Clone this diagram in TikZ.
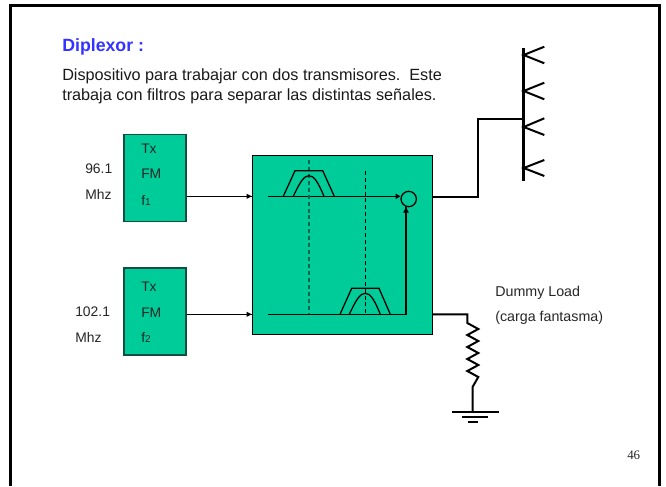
\documentclass[tikz,border=0pt]{standalone}
\usepackage{fontspec}
\setmainfont{Liberation Sans}
\newfontfamily\numfont{Liberation Serif}
\usepackage{tikz}
\definecolor{verde}{HTML}{00CC99}
\definecolor{azul}{HTML}{3333FF}
\definecolor{borde}{HTML}{0B4F44}
\definecolor{trazo}{HTML}{00664D}
\newcommand{\sub}[1]{{\fontsize{7.5pt}{9pt}\selectfont #1}}

\begin{document}
\begin{tikzpicture}[x=0.75pt,y=-0.75pt]
\tikzstyle{every node}+=[inner sep=0pt]
\tikzset{
  label/.style={anchor=base west,font=\fontsize{10.4pt}{12pt}\selectfont,text=black!85},
  note/.style={anchor=base west,font=\fontsize{10.7pt}{12pt}\selectfont,text=black!85},
  body/.style={anchor=base west,font=\fontsize{12.17pt}{14pt}\selectfont,text=black!90},
  txbox/.style={draw=borde,fill=verde,line width=0.9pt,minimum width=46.5pt,minimum height=65.3pt},
  wire/.style={black,line width=0.95pt},
  feed/.style={black,line width=1.5pt},
  mast/.style={black,line width=1.9pt},
  rayas/.style={dash pattern=on 3pt off 2.2pt}
}
\useasboundingbox (0,0) rectangle (666,486);
\draw [black,line width=2.25pt] (10.5,486) -- (10.5,5.5) -- (659.5,5.5) -- (659.5,486);

\node [anchor=base west,font=\bfseries\fontsize{13.3pt}{16pt}\selectfont,text=azul] (titulo) at (62,51) {Diplexor :};
\node [body] (lineaa) at (62,80) {Dispositivo para trabajar con dos transmisores.\ \ Este};
\node [body] (lineab) at (62,100) {trabaja con filtros para separar las distintas señales.};

\node [txbox] (txa) at (155,178.2) {};
\node [txbox] (txb) at (155,311.5) {};
\node [draw=black,fill=verde,line width=0.9pt,minimum width=135pt,minimum height=134.5pt] (diplexor) at (342.3,245) {};
\node [draw=black,circle,line width=0.95pt,minimum size=11.5pt] (suma) at (408.7,199) {};

\node [label] (txat) at (141,153.3) {Tx};
\node [label] (txaf) at (141,178.3) {FM};
\node [label] (txan) at (141,205) {f\sub{1}};
\node [label] (txbt) at (141,291) {Tx};
\node [label] (txbf) at (141,317.3) {FM};
\node [label] (txbn) at (141,342.5) {f\sub{2}};
\node [label] (freqa) at (85,173.3) {96.1};
\node [label] (mhza) at (85,199) {Mhz};
\node [label] (freqb) at (75,316) {102.1};
\node [label] (mhzb) at (75,342.5) {Mhz};
\node [note] (dummy) at (495,296) {Dummy Load};
\node [note] (fantasma) at (495,321.5) {(carga fantasma)};
\node [anchor=base west,font=\numfont\fontsize{9.7pt}{12pt}\selectfont,text=black!85] (pagina) at (627,459.5) {46};

\coordinate (entradaa) at (diplexor.west |- 0,196.3);
\coordinate (entradab) at (diplexor.west |- 0,314.3);
\coordinate (salidaa) at (diplexor.east |- 0,197);
\coordinate (salidab) at (diplexor.east |- 0,314.3);
\coordinate (inicioa) at (267.7,196.3);
\coordinate (iniciob) at (267.7,314.3);
\coordinate (codo) at (406,314.3);

\draw [wire] (txa.east |- entradaa) -- (entradaa);
\fill [black] (entradaa) -- (246.5,193.7) -- (246.5,198.9);
\draw [wire] (txb.east |- entradab) -- (entradab);
\fill [black] (entradab) -- (246.5,311.7) -- (246.5,316.9);
\draw [wire] (inicioa) -- (suma.west |- inicioa);
\fill [black] (suma.west |- inicioa) -- (395.5,193.5) -- (395.5,199.1);
\draw [wire] (iniciob) -- (codo) -- (codo |- suma.south);
\fill [black] (codo |- suma.south) -- (403.2,212.5) -- (408.8,212.5);

\draw [trazo,rayas,line width=1.3pt] (309,160) -- (309,314.3);
\draw [wire] (283.3,196.3) -- (295,170.7) -- (322.7,170.7) -- (334.3,196.3);
\draw [wire] (293.3,196.3) .. controls (300,182) and (304,175.7) .. (309,175.7) .. controls (314,175.7) and (318,182) .. (324,196.3);
\draw [black,rayas,line width=0.95pt] (365.3,170.7) -- (365.3,314.3);
\draw [wire] (340,314.3) -- (351.7,288.3) -- (379,288.3) -- (390.3,314.3);
\draw [wire] (349.3,314.3) .. controls (356,300) and (360,293.3) .. (365.3,293.3) .. controls (370.5,293.3) and (374.5,300) .. (380.3,314.3);

\coordinate (codoa) at (477.7,197);
\coordinate (codob) at (477.7,119);
\coordinate (mastil) at (523.7,119);
\coordinate (mastila) at (523.7,48.3);
\coordinate (mastilb) at (523.7,180.7);
\draw [feed] (salidaa) -- (codoa) -- (codob) -- (mastil);
\draw [mast] (mastila) -- (mastilb);
\draw [feed] (544.3,46.7) -- (523.7,55) -- (544.3,63.3);
\draw [feed] (544.3,82.7) -- (523.7,91) -- (544.3,99.3);
\draw [feed] (544.3,118.3) -- (523.7,127) -- (544.3,135);
\draw [feed] (544.3,160) -- (523.7,168) -- (544.3,176);

\coordinate (resistor) at (467.3,314.3);
\coordinate (tierra) at (472.7,411.7);
\draw [feed] (salidab) -- (resistor) -- (467.3,323) -- (478.3,329) -- (467.3,335) -- (478.3,341) -- (467.3,347) -- (478.3,353) -- (467.3,359) -- (478.3,365) -- (467.3,371) -- (478.3,377) -- (472.7,386.7) -- (tierra);
\draw [black,line width=1.2pt] (452.3,411.7) -- (498.7,411.7);
\draw [black,line width=1.2pt] (462,416.7) -- (488,416.7);
\draw [black,line width=1.2pt] (468,421.7) -- (478,421.7);
\end{tikzpicture}
\end{document}
